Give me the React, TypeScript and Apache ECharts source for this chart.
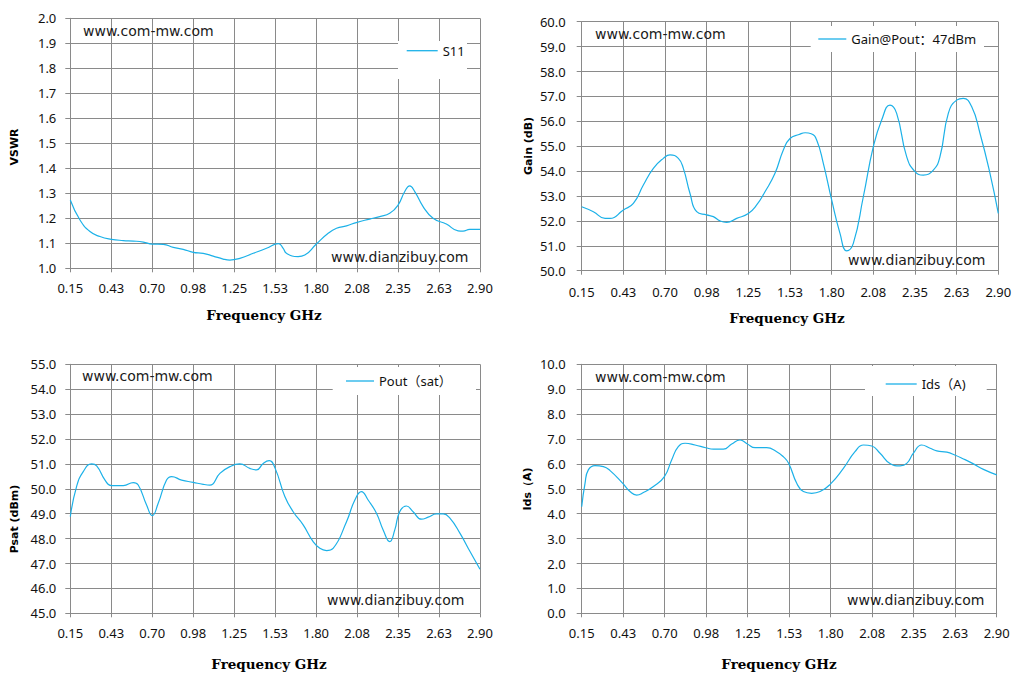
import React, { useEffect, useRef } from "react";
import * as echarts from "echarts";

// ---- data (frequency in GHz) ----
const xTickStart = 0.15;
const xTickStep = 0.275;
const xTickCount = 10;

const s11Freq = [0.15,0.215,0.282,0.349,0.425,0.506,0.573,0.64,0.70,0.774,0.841,0.908,0.975,1.042,1.109,1.176,1.221,1.288,1.378,1.467,1.547,1.579,1.601,1.679,1.724,1.80,1.881,1.937,2.004,2.075,2.16,2.227,2.294,2.35,2.395,2.428,2.462,2.518,2.585,2.674,2.753,2.786,2.831,2.90];
const s11Vals = [1.273,1.193,1.147,1.127,1.116,1.111,1.109,1.105,1.097,1.096,1.084,1.076,1.064,1.06,1.049,1.037,1.033,1.04,1.06,1.08,1.099,1.08,1.06,1.047,1.053,1.096,1.14,1.16,1.17,1.184,1.197,1.207,1.22,1.253,1.307,1.33,1.307,1.247,1.2,1.177,1.15,1.149,1.156,1.156];

const gainFreq = [0.15,0.227,0.304,0.337,0.425,0.491,0.557,0.623,0.689,0.733,0.788,0.821,0.865,0.909,0.975,1.019,1.063,1.107,1.173,1.25,1.305,1.36,1.426,1.481,1.525,1.585,1.625,1.665,1.701,1.745,1.80,1.855,1.899,1.943,2.009,2.075,2.13,2.185,2.229,2.295,2.35,2.405,2.471,2.515,2.57,2.625,2.669,2.724,2.779,2.845,2.90];
const gainVals = [52.57,52.37,52.1,52.1,52.44,52.7,53.44,54.11,54.51,54.65,54.51,54.11,53.1,52.37,52.24,52.17,52.0,51.94,52.1,52.3,52.64,53.17,53.91,54.85,55.31,55.47,55.54,55.5,55.25,54.31,52.84,51.5,50.8,51.1,52.97,54.98,56.05,56.65,56.32,54.58,53.98,53.84,54.04,54.58,56.32,56.85,56.92,56.59,55.52,53.91,52.3];

const poutFreq = [0.15,0.192,0.237,0.293,0.327,0.383,0.425,0.506,0.573,0.606,0.662,0.70,0.74,0.796,0.83,0.897,0.975,1.042,1.087,1.154,1.221,1.288,1.355,1.40,1.445,1.485,1.525,1.59,1.646,1.713,1.78,1.825,1.87,1.914,2.004,2.06,2.104,2.149,2.205,2.25,2.294,2.328,2.361,2.406,2.451,2.507,2.552,2.608,2.653,2.698,2.766,2.833,2.90];
const poutVals = [48.88,50.09,50.69,51.0,50.92,50.35,50.13,50.13,50.25,50.15,49.35,48.92,49.42,50.35,50.49,50.35,50.26,50.18,50.15,50.62,50.89,51.0,50.82,50.76,51.02,51.13,50.82,49.69,49.08,48.55,47.88,47.61,47.52,47.61,48.68,49.55,49.89,49.55,49.02,48.35,47.88,48.35,49.08,49.31,49.08,48.78,48.86,48.99,48.99,48.82,48.21,47.48,46.77];

const idsFreq = [0.15,0.172,0.194,0.238,0.294,0.338,0.422,0.47,0.514,0.559,0.625,0.698,0.746,0.79,0.835,0.901,0.972,1.023,1.089,1.144,1.199,1.248,1.299,1.376,1.442,1.486,1.522,1.575,1.619,1.674,1.73,1.798,1.884,1.961,2.017,2.072,2.127,2.193,2.26,2.304,2.348,2.403,2.459,2.503,2.57,2.622,2.68,2.746,2.812,2.90];
const idsVals = [4.28,5.22,5.76,5.93,5.89,5.73,5.22,4.89,4.75,4.85,5.09,5.49,6.16,6.69,6.83,6.76,6.65,6.59,6.59,6.8,6.96,6.8,6.65,6.65,6.49,6.29,6.02,5.22,4.89,4.82,4.89,5.19,5.82,6.49,6.76,6.72,6.43,6.02,5.92,6.02,6.43,6.76,6.63,6.52,6.47,6.36,6.2,6.0,5.78,5.56];

const seriesNames = ["S11", "Gain@Pout：47dBm", "Pout（sat）", "Ids（A)"];
const yTitles = ["VSWR", "Gain (dB)", "Psat (dBm)", "Ids（A)"];
const yRanges = [
  [1.0, 2.0, 0.1],
  [50, 60, 1],
  [45, 55, 1],
  [0, 10, 1],
];
const xTitle = "Frequency GHz";
const mark1 = "www.com-mw.com";
const mark2 = "www.dianzibuy.com";

// ---- layout ----
const grids = [
  { left: 70.3, top: 18.3, width: 409.7, height: 250 },
  { left: 581.7, top: 21.7, width: 416.6, height: 249 },
  { left: 70.3, top: 364.3, width: 409.7, height: 249 },
  { left: 581.7, top: 364.3, width: 415, height: 249 },
];
const yLabelMargin = [14, 16, 14, 16];
const xLabelMargin = [13, 14.5, 13.5, 13.5];
// legend: left of icon, vertical centre of the item, icon width
const legendPos = [
  { left: 406.7, cy: 50.7, w: 31 },
  { left: 818.3, cy: 39, w: 28 },
  { left: 346, cy: 381, w: 28 },
  { left: 885.7, cy: 384, w: 31 },
];
const legendBoxes = [
  { x: 398, y: 41, w: 69, h: 38 },
  { x: 810.7, y: 26, w: 173.3, h: 26 },
  { x: 332.7, y: 367, w: 143.3, h: 28 },
  { x: 865, y: 366, w: 121.7, h: 30 },
];
const yTitlePos = [
  [14, 147],
  [528, 146],
  [14, 519],
  [527, 489],
];
const xTitlePos = [
  [264, 315],
  [787, 318],
  [269, 664],
  [779, 664],
];
const markPos = [
  [[83, 31], [331, 257]],
  [[595, 34], [848, 260]],
  [[82, 376], [327, 600]],
  [[595, 377], [847, 600]],
];

const LINE = "#1CB1E8";
const GRIDC = "#8a8a8a";
const SANS = '"Noto Sans", "Noto Sans CJK SC", sans-serif';
const ICON_H = 1.3;
const LEG_LH = 14;

function buildOption() {
  const freqs = [s11Freq, gainFreq, poutFreq, idsFreq];
  const vals = [s11Vals, gainVals, poutVals, idsVals];
  const xMax = xTickStep * xTickCount;

  const xAxis = grids.map((_, i) => ({
    type: "value",
    gridIndex: i,
    min: 0,
    max: xMax,
    interval: xTickStep,
    axisLine: { show: true, lineStyle: { color: GRIDC, width: 1 } },
    axisTick: { show: true, length: 4, inside: false, lineStyle: { color: GRIDC } },
    splitLine: { show: true, lineStyle: { color: GRIDC, width: 1 } },
    axisLabel: {
      margin: xLabelMargin[i],
      color: "#111",
      fontSize: 13,
      fontFamily: SANS,
      formatter: (v: number) => (Math.round((v + xTickStart) * 100 + 1e-6) / 100).toFixed(2),
    },
  }));

  const yAxis = grids.map((_, i) => ({
    type: "value",
    gridIndex: i,
    min: yRanges[i][0],
    max: yRanges[i][1],
    interval: yRanges[i][2],
    axisLine: { show: true, lineStyle: { color: GRIDC, width: 1 } },
    axisTick: { show: true, length: 5, inside: false, lineStyle: { color: GRIDC } },
    splitLine: { show: true, lineStyle: { color: GRIDC, width: 1 } },
    axisLabel: {
      margin: yLabelMargin[i],
      color: "#111",
      fontSize: 13,
      fontFamily: SANS,
      formatter: (v: number) => v.toFixed(1),
    },
  }));

  const series = grids.map((_, i) => ({
    type: "line",
    name: seriesNames[i],
    xAxisIndex: i,
    yAxisIndex: i,
    symbol: "none",
    showSymbol: false,
    smooth: 0.5,
    lineStyle: { color: LINE, width: 1.2 },
    itemStyle: { color: LINE },
    z: 2,
    data: freqs[i].map((f, k) => [f - xTickStart, vals[i][k]]),
  }));

  const legend = grids.map((_, i) => ({
    data: [seriesNames[i]],
    left: legendPos[i].left,
    top: legendPos[i].cy - LEG_LH / 2,
    padding: 0,
    icon: "rect",
    itemWidth: legendPos[i].w,
    itemHeight: ICON_H,
    itemStyle: { color: LINE, borderWidth: 0 },
    z: 5,
    selectedMode: false,
    textStyle: { color: "#111", fontSize: 13, lineHeight: LEG_LH, fontFamily: SANS },
  }));

  const graphic: any[] = [];
  legendBoxes.forEach((b) => {
    graphic.push({
      type: "rect",
      z: 3,
      shape: { x: b.x, y: b.y, width: b.w, height: b.h },
      style: { fill: "#ffffff" },
      silent: true,
    });
  });
  yTitlePos.forEach((p, i) => {
    graphic.push({
      type: "text",
      x: p[0],
      y: p[1],
      rotation: Math.PI / 2,
      z: 6,
      style: {
        text: yTitles[i],
        fill: "#000",
        fontSize: 11,
        fontWeight: "bold",
        fontFamily: '"DejaVu Sans", sans-serif',
        textAlign: "center",
        textVerticalAlign: "middle",
        align: "center",
        verticalAlign: "middle",
      },
    });
  });
  xTitlePos.forEach((p) => {
    graphic.push({
      type: "text",
      x: p[0],
      y: p[1],
      z: 6,
      style: {
        text: xTitle,
        fill: "#000",
        fontSize: 13.5,
        fontWeight: "bold",
        fontFamily: '"DejaVu Serif", serif',
        textAlign: "center",
        textVerticalAlign: "middle",
        align: "center",
        verticalAlign: "middle",
      },
    });
  });
  markPos.forEach((pair) => {
    [mark1, mark2].forEach((t, k) => {
      graphic.push({
        type: "text",
        x: pair[k][0],
        y: pair[k][1],
        z: 6,
        style: {
          text: t,
          fill: "#1a1a1a",
          fontSize: 14,
          fontFamily: '"DejaVu Sans", sans-serif',
          textAlign: "left",
          textVerticalAlign: "middle",
          align: "left",
          verticalAlign: "middle",
        },
      });
    });
  });

  return {
    animation: false,
    backgroundColor: "#ffffff",
    grid: grids.map((g) => ({ ...g, containLabel: false, show: false })),
    xAxis,
    yAxis,
    series,
    legend,
    graphic,
  };
}

export default function App() {
  const ref = useRef<HTMLDivElement>(null);
  useEffect(() => {
    if (!ref.current) return;
    const chart = echarts.init(ref.current, null, { renderer: "svg" });
    chart.setOption(buildOption() as any);
    return () => chart.dispose();
  }, []);
  return (
    <div
      ref={ref}
      style={{ position: "absolute", left: 0, top: 0, width: 1025, height: 679, background: "#fff" }}
    />
  );
}
